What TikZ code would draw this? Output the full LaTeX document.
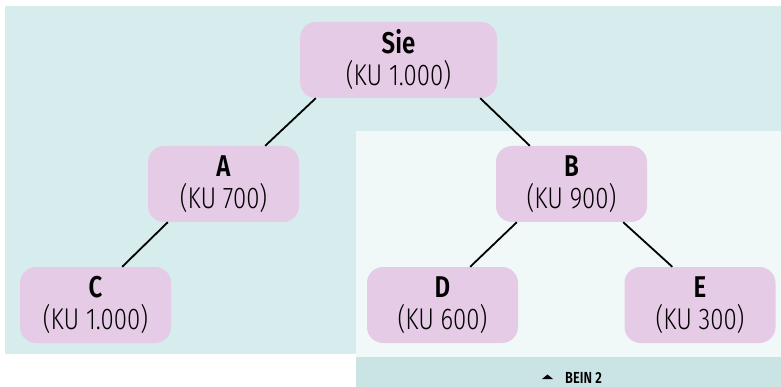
\documentclass[tikz,border=0pt]{standalone}
\usepackage{fontspec}
\setmainfont{Fira Sans}[FakeStretch=0.8, UprightFont=* Light, BoldFont=* SemiBold]
\definecolor{outerbg}{HTML}{D6ECED}
\definecolor{innerbg}{HTML}{F0F8F8}
\definecolor{barbg}{HTML}{CAE4E6}
\definecolor{nodefill}{HTML}{E6CBE6}
\tikzset{
  person/.style={fill=nodefill, rounded corners=16pt, minimum height=76pt,
    inner sep=0pt, align=center, font=\fontsize{30}{32}\selectfont},
  wide/.style={minimum width=197pt},
  narrow/.style={minimum width=151pt},
  link/.style={draw=black, line width=1.8pt},
}
\newcommand{\who}[2]{{\bfseries #1}\\(KU~#2)}
\begin{document}
\begin{tikzpicture}[x=1pt,y=-1pt]
  \useasboundingbox (0,0) rectangle (781,387);
  % background panels
  \fill[outerbg] (5,6) rectangle (781,354);
  \fill[innerbg] (356,131) rectangle (781,357);
  \fill[barbg] (356,357) rectangle (781,387);

  % tree nodes
  \node[person,wide]   (sie) at (398.5,60)  {\who{Sie}{1.000}};
  \node[person,narrow] (a)   at (223.5,184) {\who{A}{700}};
  \node[person,narrow] (b)   at (571.5,184) {\who{B}{900}};
  \node[person,narrow] (c)   at (95.5,305)  {\who{C}{1.000}};
  \node[person,narrow] (d)   at (442.5,305) {\who{D}{600}};
  \node[person,narrow] (e)   at (700,305)   {\who{E}{300}};

  % connectors
  \draw[link] ([xshift=16pt]sie.south west) -- ([xshift=-34pt]a.north east);
  \draw[link] ([xshift=-17pt]sie.south east) -- ([xshift=34pt]b.north west);
  \draw[link] ([xshift=20pt]a.south west) -- ([xshift=-49pt]c.north east);
  \draw[link] ([xshift=21pt]b.south west) -- ([xshift=-48pt]d.north east);
  \draw[link] ([xshift=-24pt]b.south east) -- ([xshift=48pt]e.north west);

  % caption bar
  \node[font=\fontsize{16}{16}\selectfont\bfseries, inner sep=0pt, anchor=base west]
    (cap) at (565,383.5) {BEIN 2};
  \coordinate (tri) at (542,379);
  \fill (tri) -- ++(11,0) -- ++(-5.5,-4.5) -- cycle;
\end{tikzpicture}
\end{document}
